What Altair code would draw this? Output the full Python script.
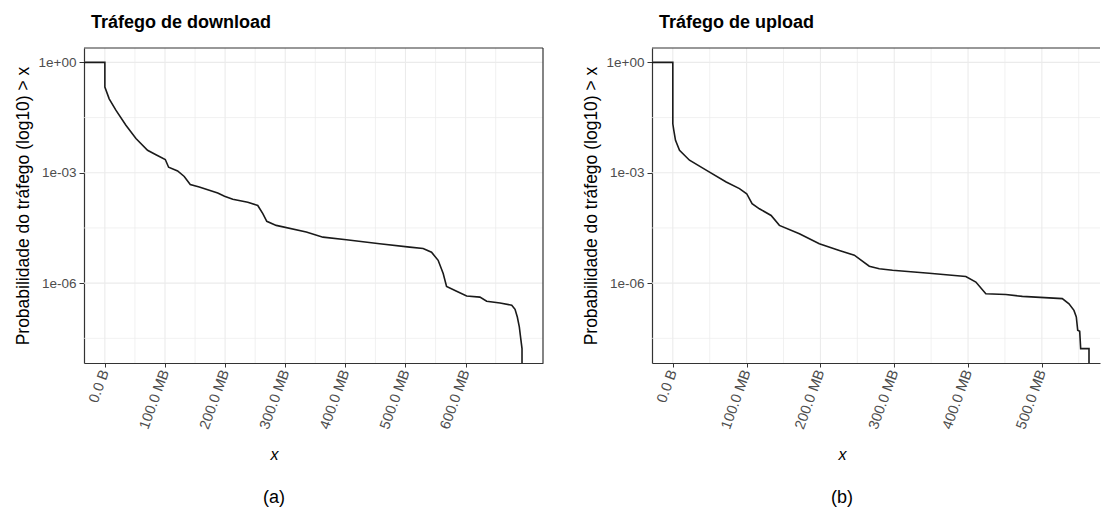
import altair as alt
import pandas as pd

FONT = "Liberation Sans, Arial, Helvetica, sans-serif"

# ---------------- complementary ECDF curves (x in MB, log10 of P(X > x)) ----------------
# leading point stands for -Inf (pad), trailing point drops below the panel (P = 0)
dl_mb = [-60, 0, 0, 7.2, 18.3, 35, 51.7, 71, 85, 100.5, 106, 121, 132, 142, 157,
         187.7, 199, 212.7, 237.7, 254.3, 262.7, 269.3, 285, 335, 362.7, 401.7,
         457, 507, 529.3, 543.3, 554.3, 562.7, 568.3, 585, 601.7, 623.8, 635,
         657.2, 676.7, 682.2, 686, 689.3, 691.7, 693.8, 693.8]
dl_log10 = [0, 0, -0.67, -0.99, -1.30, -1.71, -2.07, -2.39, -2.51, -2.64, -2.85, -2.95, -3.10, -3.32, -3.39,
            -3.55, -3.64, -3.72, -3.80, -3.89, -4.11, -4.32, -4.43, -4.61, -4.75, -4.82,
            -4.93, -5.02, -5.06, -5.16, -5.38, -5.74, -6.09, -6.22, -6.35, -6.38, -6.49,
            -6.54, -6.60, -6.71, -6.92, -7.19, -7.51, -7.78, -9.5]

ul_mb = [-60, 0, 0, 1.35, 3.65, 9.07, 22.6, 45.2, 72.3, 90.3, 100.1, 107.4, 117.3,
         133.2, 144.4, 171.5, 198.5, 225.6, 245.9, 266.2, 279.7, 297.7, 347.4, 397.0,
         410.6, 424.1, 451.2, 473.6, 527.7, 536.8, 543.5, 546.7, 548.6, 551.3, 552.6,
         563.9, 563.9]
ul_log10 = [0, 0, -1.67, -1.85, -2.12, -2.39, -2.66, -2.93, -3.25, -3.43, -3.57, -3.84, -3.98,
            -4.16, -4.43, -4.66, -4.93, -5.11, -5.24, -5.54, -5.61, -5.65, -5.73, -5.82,
            -5.97, -6.29, -6.31, -6.36, -6.42, -6.56, -6.74, -6.92, -7.28, -7.31, -7.78,
            -7.78, -9.5]

# ---------------- scales, breaks and labels ----------------
dl_x_domain = [-34.7, 728.7]
ul_x_domain = [-28.2, 578.8]
y_domain_log10 = [-8.17, 0.39]

dl_x_major = [0, 100, 200, 300, 400, 500, 600]
dl_x_minor = [50, 150, 250, 350, 450, 550, 650]
dl_x_labels = ["0.0 B", "100.0 MB", "200.0 MB", "300.0 MB", "400.0 MB", "500.0 MB", "600.0 MB"]
ul_x_major = [0, 100, 200, 300, 400, 500]
ul_x_minor = [50, 150, 250, 350, 450, 550]
ul_x_labels = ["0.0 B", "100.0 MB", "200.0 MB", "300.0 MB", "400.0 MB", "500.0 MB"]

y_major_log10 = [0, -3, -6]
y_minor_log10 = [-1.5, -4.5, -7.5]
y_labels = ["1e+00", "1e-03", "1e-06"]

y_title = "Probabilidade do tráfego (log10) > x"

GRID = "#EBEBEB"
BORDER = "#333333"
TICKLABEL = "#4D4D4D"


def label_expr(values, labels, value_expr):
    expr = "''"
    for v, lab in reversed(list(zip(values, labels))):
        expr = f"abs({value_expr} - ({v})) < 0.01 ? '{lab}' : {expr}"
    return expr


def panel(title, mb, lg, x_domain, x_major, x_minor, x_labels, tag, width, right_border):
    assert len(mb) == len(lg)
    y_dom = [10 ** y_domain_log10[0], 10 ** y_domain_log10[1]]
    xs = alt.Scale(domain=x_domain, nice=False, zero=False)
    ys = alt.Scale(type="log", domain=y_dom, nice=False)

    x_axis = alt.Axis(
        values=x_major, labelExpr=label_expr(x_major, x_labels, "datum.value"),
        grid=False, domain=True, domainColor=BORDER, domainWidth=1.2,
        ticks=True, tickColor=BORDER, tickSize=4, tickWidth=1,
        labelAngle=290, labelAlign="right", labelBaseline="middle",
        labelFont=FONT, labelFontSize=14.5, labelColor=TICKLABEL, labelPadding=3,
        labelOverlap=False, labelFlush=False,
        title="x", titleFont=FONT, titleFontSize=16, titleFontStyle="italic",
        titleFontWeight="normal", titleColor="black",
        titleX=190, titleY=91, titleBaseline="middle", titleAlign="center",
    )
    y_axis = alt.Axis(
        values=[10 ** v for v in y_major_log10],
        labelExpr=label_expr(y_major_log10, y_labels, "log(datum.value)/LN10"),
        grid=False, domain=True, domainColor=BORDER, domainWidth=1.2,
        ticks=True, tickColor=BORDER, tickSize=5, tickWidth=1,
        labelFont=FONT, labelFontSize=13.5, labelColor=TICKLABEL, labelPadding=3,
        labelOverlap=False, labelFlush=False,
        title=y_title, titleFont=FONT, titleFontSize=17.5, titleFontWeight="normal",
        titleColor="black", titlePadding=6,
    )

    # one long table: curve points, grid positions and border positions, tagged by role
    rows = []
    for i, (m, l) in enumerate(zip(mb, lg)):
        rows.append({"role": "curve", "i": i, "x": m, "y": 10 ** l})
    for v in x_major:
        rows.append({"role": "vmaj", "x": v})
    for v in x_minor:
        rows.append({"role": "vmin", "x": v})
    for v in y_major_log10:
        rows.append({"role": "hmaj", "y": 10 ** v})
    for v in y_minor_log10:
        rows.append({"role": "hmin", "y": 10 ** v})
    rows.append({"role": "top", "y": y_dom[1]})
    if right_border:
        rows.append({"role": "right", "x": x_domain[1]})
    df = pd.DataFrame(rows)

    X = alt.X("x:Q", scale=xs, axis=x_axis)
    Y = alt.Y("y:Q", scale=ys, axis=y_axis)
    base = alt.Chart(df)

    def role(r):
        return alt.datum.role == r

    vmin = base.transform_filter(role("vmin")).mark_rule(color=GRID, strokeWidth=0.7).encode(x=X)
    vmaj = base.transform_filter(role("vmaj")).mark_rule(color=GRID, strokeWidth=1.1).encode(x=X)
    hmin = base.transform_filter(role("hmin")).mark_rule(color=GRID, strokeWidth=0.7).encode(y=Y)
    hmaj = base.transform_filter(role("hmaj")).mark_rule(color=GRID, strokeWidth=1.1).encode(y=Y)
    top = base.transform_filter(role("top")).mark_rule(color=BORDER, strokeWidth=1.2).encode(y=Y)
    line = base.transform_filter(role("curve")).mark_line(
        color="#1a1a1a", strokeWidth=1.6, clip=True).encode(x=X, y=Y, order="i:Q")

    layers = [vmin, vmaj, hmin, hmaj, top]
    if right_border:
        layers.append(base.transform_filter(role("right")).mark_rule(
            color=BORDER, strokeWidth=1.2).encode(x=X))
    layers.append(line)

    caption = alt.Chart(pd.DataFrame({"t": [tag]})).mark_text(
        font=FONT, fontSize=18, color="black", align="center", baseline="middle"
    ).encode(text="t:N", x=alt.value(190), y=alt.value(450))
    layers.append(caption)

    return alt.layer(*layers).properties(
        width=width, height=315,
        title=alt.TitleParams(
            text=title, anchor="start", frame="group", font=FONT, fontSize=18,
            fontWeight="bold", color="black", dx=7, offset=1, baseline="alphabetic",
        ),
    )


left = panel("Tráfego de download", dl_mb, dl_log10, dl_x_domain, dl_x_major, dl_x_minor,
             dl_x_labels, "(a)", 459, True)
right = panel("Tráfego de upload", ul_mb, ul_log10, ul_x_domain, ul_x_major, ul_x_minor,
              ul_x_labels, "(b)", 448, False)

chart = alt.hconcat(left, right, spacing=36).properties(
    padding={"left": 13, "top": 13, "right": 0, "bottom": 0},
    background="white",
).configure_view(stroke="transparent")

chart.save("out.html", embed_options={"renderer": "svg", "actions": False})
